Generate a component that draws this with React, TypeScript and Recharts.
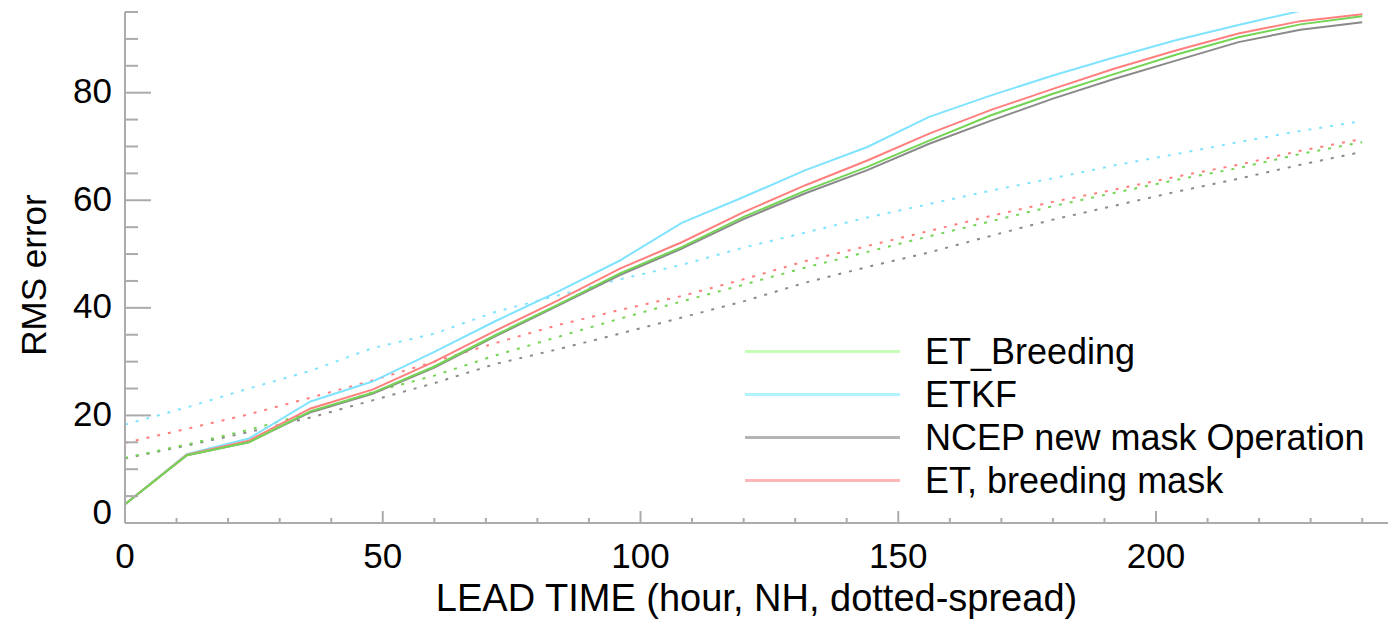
import React from 'react';
import { LineChart, Line, XAxis, YAxis, Legend } from 'recharts';

const leadTimes = [0, 12, 24, 36, 48, 60, 72, 84, 96, 108, 120, 132, 144, 156, 168, 180, 192, 204, 216, 228, 240];

const etBreedingRms = [3.5, 12.6, 15.0, 20.8, 24.2, 29.1, 35.0, 40.6, 46.4, 51.3, 56.9, 61.8, 66.2, 71.1, 75.8, 79.8, 83.5, 87.1, 90.3, 92.7, 94.2];
const etkfRms = [3.5, 12.8, 15.7, 22.6, 26.3, 31.8, 37.6, 43.0, 48.8, 55.8, 60.6, 65.6, 69.9, 75.5, 79.5, 83.2, 86.6, 89.8, 92.6, 95.2, 97.8];
const ncepRms = [3.5, 12.6, 15.0, 20.6, 24.0, 28.9, 34.8, 40.4, 46.1, 51.0, 56.5, 61.3, 65.6, 70.5, 74.8, 78.9, 82.6, 86.0, 89.4, 91.7, 93.1];
const etMaskRms = [3.5, 12.7, 15.3, 21.3, 24.8, 30.0, 35.8, 41.4, 47.3, 52.2, 57.8, 62.8, 67.4, 72.4, 76.8, 80.7, 84.5, 87.9, 91.0, 93.3, 94.6];

const etBreedingSpread = [12.1, 14.6, 17.3, 20.5, 24.3, 27.4, 31.2, 34.6, 38.0, 41.2, 44.3, 47.5, 50.4, 53.3, 56.1, 58.9, 61.4, 63.8, 66.0, 68.6, 70.8];
const etkfSpread = [18.3, 21.5, 25.0, 28.3, 32.5, 35.2, 39.3, 42.3, 45.3, 48.0, 51.2, 54.0, 56.8, 59.3, 61.8, 64.1, 66.5, 68.6, 70.8, 72.9, 74.7];
const ncepSpread = [12.0, 14.4, 16.9, 19.6, 22.8, 26.0, 29.6, 32.3, 35.2, 38.2, 41.2, 44.7, 47.6, 50.3, 53.4, 56.4, 59.0, 61.6, 64.0, 66.6, 69.0];
const etMaskSpread = [14.9, 17.5, 20.2, 23.3, 26.5, 30.0, 33.5, 36.8, 39.6, 42.2, 45.3, 48.7, 51.5, 54.3, 57.1, 59.7, 62.0, 64.4, 66.6, 69.2, 71.4];

const xTicks = Array.from({ length: 25 }, (_, i) => i * 10);
const yTicks = Array.from({ length: 20 }, (_, i) => i * 5);

const data = leadTimes.map((t, i) => ({
  t,
  etBreeding: etBreedingRms[i],
  etkf: etkfRms[i],
  ncep: ncepRms[i],
  etMask: etMaskRms[i],
  etBreedingSp: etBreedingSpread[i],
  etkfSp: etkfSpread[i],
  ncepSp: ncepSpread[i],
  etMaskSp: etMaskSpread[i],
}));

const FONT = '"Liberation Sans", Arial, sans-serif';
const AXIS = '#ababab';
const PLOT = { left: 125, right: 1388, top: 12, bottom: 523 };

const GREEN = '#74d454';
const CYAN = '#7fe3ff';
const GRAY = '#8a8a8a';
const RED = '#ff7f7f';

const legendRows = [
  { label: 'ET_Breeding', color: '#c6ffb6' },
  { label: 'ETKF', color: '#b0f3ff' },
  { label: 'NCEP new mask Operation', color: '#b5b5b5' },
  { label: 'ET, breeding mask', color: '#ffb6b6' },
];

const BottomTick = (props: any) => {
  const { x, payload } = props;
  const major = payload.value % 50 === 0;
  return (
    <g>
      <line x1={x} x2={x} y1={PLOT.bottom} y2={PLOT.bottom - (major ? 12 : 5)} stroke={AXIS} strokeWidth={2} />
      {major && (
        <text x={x} y={568} textAnchor="middle" fontSize={35} fontFamily={FONT} fill="#000">
          {payload.value}
        </text>
      )}
    </g>
  );
};

const TopTick = (props: any) => {
  const { x, payload } = props;
  const major = payload.value % 50 === 0;
  return <line x1={x} x2={x} y1={PLOT.top} y2={PLOT.top + (major ? 12 : 6)} stroke={AXIS} strokeWidth={2} />;
};

const LeftTick = (props: any) => {
  const { y, payload } = props;
  const major = payload.value % 20 === 0;
  return (
    <g>
      <line x1={PLOT.left} x2={PLOT.left + (major ? 26 : 13)} y1={y} y2={y} stroke={AXIS} strokeWidth={2} />
      {major && (
        <text
          x={112}
          y={payload.value === 0 ? y - 12 : y - 2}
          textAnchor="end"
          dominantBaseline="central"
          fontSize={35}
          fontFamily={FONT}
          fill="#000"
        >
          {payload.value}
        </text>
      )}
    </g>
  );
};

const RightTick = (props: any) => {
  const { y, payload } = props;
  const major = payload.value % 20 === 0;
  return <line x1={PLOT.right} x2={PLOT.right - (major ? 26 : 13)} y1={y} y2={y} stroke={AXIS} strokeWidth={2} />;
};

const LegendBox = () => (
  <div style={{ fontFamily: FONT }}>
    {legendRows.map((r) => (
      <div key={r.label} style={{ display: 'flex', alignItems: 'center', height: 43 }}>
        <div style={{ width: 155, height: 3, background: r.color, marginRight: 25 }} />
        <span style={{ fontSize: 36, lineHeight: '43px', color: '#000', whiteSpace: 'nowrap' }}>{r.label}</span>
      </div>
    ))}
  </div>
);

export default function App() {
  return (
    <div style={{ position: 'absolute', left: 0, top: 0, background: '#fff' }}>
      <LineChart width={1389} height={619} data={data} margin={{ top: 12, right: 1, bottom: 0, left: 0 }}>
        <XAxis
          dataKey="t"
          type="number"
          domain={[0, 245]}
          allowDataOverflow
          ticks={xTicks}
          interval={0}
          height={96}
          tickLine={false}
          axisLine={{ stroke: AXIS, strokeWidth: 2 }}
          tick={<BottomTick />}
          label={{
            value: 'LEAD TIME (hour, NH, dotted-spread)',
            position: 'insideBottom',
            offset: 8,
            fontSize: 38,
            fontFamily: FONT,
            fill: '#000',
          }}
        />
        <XAxis
          xAxisId="top"
          orientation="top"
          type="number"
          domain={[0, 245]}
          allowDataOverflow
          ticks={xTicks}
          interval={0}
          height={0}
          tickLine={false}
          axisLine={{ stroke: AXIS, strokeWidth: 2 }}
          tick={<TopTick />}
        />
        <YAxis
          type="number"
          domain={[0, 95]}
          allowDataOverflow
          ticks={yTicks}
          interval={0}
          width={125}
          tickLine={false}
          axisLine={{ stroke: AXIS, strokeWidth: 2 }}
          tick={<LeftTick />}
          label={{
            content: () => (
              <text
                transform="translate(33,275) rotate(-90)"
                textAnchor="middle"
                dominantBaseline="central"
                fontSize={35}
                fontFamily={FONT}
                fill="#000"
              >
                RMS error
              </text>
            ),
          }}
        />
        <YAxis
          yAxisId="right"
          orientation="right"
          type="number"
          domain={[0, 95]}
          allowDataOverflow
          ticks={yTicks}
          interval={0}
          width={0}
          tickLine={false}
          axisLine={{ stroke: AXIS, strokeWidth: 2 }}
          tick={<RightTick />}
        />
        <Legend
          layout="vertical"
          align="center"
          verticalAlign="middle"
          content={<LegendBox />}
          wrapperStyle={{ left: 745, top: 330, width: 640 }}
        />

        {/* dotted: ensemble spread */}
        <Line dataKey="ncepSp" stroke={GRAY} strokeWidth={2} strokeDasharray="3 8" dot={false} legendType="none" isAnimationActive={false} />
        <Line dataKey="etkfSp" stroke={CYAN} strokeWidth={2} strokeDasharray="3 8" dot={false} legendType="none" isAnimationActive={false} />
        <Line dataKey="etBreedingSp" stroke={GREEN} strokeWidth={2} strokeDasharray="3 8" dot={false} legendType="none" isAnimationActive={false} />
        <Line dataKey="etMaskSp" stroke={RED} strokeWidth={2} strokeDasharray="3 8" dot={false} legendType="none" isAnimationActive={false} />

        {/* solid: RMS error */}
        <Line dataKey="ncep" name="NCEP new mask Operation" stroke={GRAY} strokeWidth={2} dot={false} isAnimationActive={false} />
        <Line dataKey="etkf" name="ETKF" stroke={CYAN} strokeWidth={2} dot={false} isAnimationActive={false} />
        <Line dataKey="etMask" name="ET, breeding mask" stroke={RED} strokeWidth={2} dot={false} isAnimationActive={false} />
        <Line dataKey="etBreeding" name="ET_Breeding" stroke={GREEN} strokeWidth={2} dot={false} isAnimationActive={false} />
      </LineChart>
    </div>
  );
}
